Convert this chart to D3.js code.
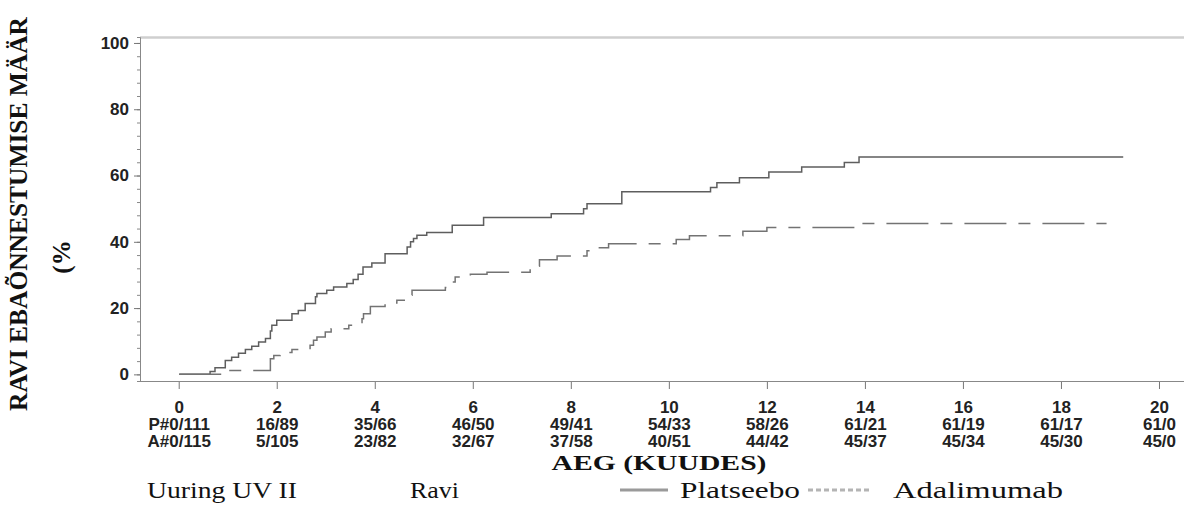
<!DOCTYPE html>
<html>
<head>
<meta charset="utf-8">
<script src="https://cdn.jsdelivr.net/npm/d3@7"></script>
<style>
body { margin: 0; background: #fff; }
</style>
</head>
<body>
<svg id="svg" width="1184" height="517"></svg>
<script>
var monthTicks = [0, 2, 4, 6, 8, 10, 12, 14, 16, 18, 20];
var rateTicks = [0, 20, 40, 60, 80, 100];
var placeboRisk = ["P#0/111", "16/89", "35/66", "46/50", "49/41", "54/33", "58/26", "61/21", "61/19", "61/17", "61/0"];
var adaRisk = ["A#0/115", "5/105", "23/82", "32/67", "37/58", "40/51", "44/42", "45/37", "45/34", "45/30", "45/0"];

// Kaplan-Meier steps: time (months) and cumulative failure rate (%)
var placeboTime = [0, 0.63, 0.73, 0.94, 1.07, 1.21, 1.35, 1.48, 1.62, 1.76, 1.86, 1.89, 1.99,
    2.3, 2.43, 2.57, 2.78, 2.81, 3.01, 3.15, 3.42, 3.55, 3.65, 3.75, 3.93, 4.2, 4.65, 4.72,
    4.78, 4.85, 5.05, 5.57, 6.21, 7.59, 8.25, 8.32, 9.03, 10.84, 10.97, 11.43, 12.03, 12.7,
    13.57, 13.87, 19.26];
var placeboRate = [0, 0.9, 2.0, 4.2, 5.2, 6.4, 7.5, 8.5, 9.8, 10.8, 13.1, 14.8, 16.3,
    18.3, 19.3, 21.4, 23.4, 24.4, 25.4, 26.4, 27.4, 28.6, 30.2, 32.4, 33.6, 36.4, 38.4, 40.0,
    41.0, 42.0, 42.8, 45.0, 47.3, 48.5, 50.0, 51.5, 55.1, 56.4, 57.8, 59.3, 61.1, 62.6,
    63.9, 65.6, 65.6];
var adaTime = [0, 0.94, 1.86, 1.93, 2.06, 2.3, 2.67, 2.74, 2.81, 2.98, 3.1, 3.46, 3.73, 3.76,
    3.9, 4.2, 4.44, 4.65, 4.75, 5.43, 5.53, 5.63, 5.94, 6.28, 7.16, 7.35, 7.71, 8.32, 8.52,
    8.76, 10.14, 10.41, 11.5, 11.99, 13.87, 18.92];
var adaRate = [0, 1.2, 4.7, 5.7, 6.6, 7.5, 8.8, 10.3, 11.3, 12.8, 13.8, 14.8, 16.8, 18.3,
    20.5, 21.5, 22.4, 23.9, 25.4, 26.2, 27.9, 29.4, 30.2, 30.8, 32.6, 34.6, 35.7, 37.3, 38.2,
    39.4, 40.7, 41.8, 43.2, 44.3, 45.5, 45.5];

var svg = d3.select('#svg');
var x = d3.scaleLinear().domain([-0.8, 20.5]).range([140, 1184]);
var y = d3.scaleLinear().domain([-2, 101.8]).range([381, 37]);
var tickFont = 'bold 17px "Liberation Sans", Arial, sans-serif';
var serifBold = '"Liberation Serif", "Times New Roman", serif';

// frame: top border and axis lines
svg.append('line')
    .attr('x1', 140).attr('x2', 1184).attr('y1', 37.5).attr('y2', 37.5)
    .attr('stroke', '#cfcfcf').attr('stroke-width', 2.5);

svg.append('g')
    .attr('transform', 'translate(140,0)')
    .call(d3.axisLeft(y).tickValues(d3.range(0, 101, 4)).tickSize(3).tickFormat(''))
    .call(function(g) {
        g.select('.domain').attr('stroke', '#888');
        g.selectAll('.tick line').attr('stroke', '#888');
    });

svg.append('g')
    .attr('transform', 'translate(140,0)')
    .call(d3.axisLeft(y).tickValues(rateTicks).tickSize(6).tickPadding(5))
    .call(function(g) {
        g.select('.domain').remove();
        g.selectAll('.tick line').attr('stroke', '#777');
        g.selectAll('.tick text')
            .attr('fill', '#222')
            .style('font', tickFont);
    });

svg.append('line')
    .attr('x1', 140).attr('x2', 1184).attr('y1', 381.5).attr('y2', 381.5)
    .attr('stroke', '#888');

svg.append('g').selectAll('line')
    .data(monthTicks)
    .enter()
    .append('line')
    .attr('x1', function(d) { return x(d); })
    .attr('x2', function(d) { return x(d); })
    .attr('y1', 382).attr('y2', 389)
    .attr('stroke', '#777');

var rows = [
    { labels: monthTicks, y: 413 },
    { labels: placeboRisk, y: 430 },
    { labels: adaRisk, y: 447 }
];
rows.forEach(function(row) {
    svg.append('g').selectAll('text')
        .data(row.labels)
        .enter()
        .append('text')
        .attr('x', function(d, i) { return x(monthTicks[i]); })
        .attr('y', row.y)
        .attr('text-anchor', 'middle')
        .attr('fill', '#222')
        .style('font', tickFont)
        .text(function(d) { return d; });
});

// curves
var line = d3.line()
    .x(function(d) { return x(d[0]); })
    .y(function(d) { return y(d[1]); })
    .curve(d3.curveStepAfter);

svg.append('path')
    .datum(d3.zip(placeboTime, placeboRate))
    .attr('d', line)
    .attr('fill', 'none')
    .attr('stroke', '#5e5e5e')
    .attr('stroke-width', 1.5);

svg.append('path')
    .datum(d3.zip(adaTime, adaRate))
    .attr('d', line)
    .attr('fill', 'none')
    .attr('stroke', '#737373')
    .attr('stroke-width', 1.5)
    .attr('stroke-dasharray', '42 12 12 12');

// titles
svg.append('text')
    .attr('x', 659).attr('y', 470)
    .attr('text-anchor', 'middle')
    .attr('fill', '#111')
    .attr('textLength', 215)
    .attr('lengthAdjust', 'spacingAndGlyphs')
    .style('font', 'bold 21px ' + serifBold)
    .text('AEG (KUUDES)');

svg.append('text')
    .attr('transform', 'translate(27,214) rotate(-90)')
    .attr('text-anchor', 'middle')
    .attr('fill', '#111')
    .attr('textLength', 394)
    .attr('lengthAdjust', 'spacingAndGlyphs')
    .style('font', 'bold 25px ' + serifBold)
    .text('RAVI EBAÕNNESTUMISE MÄÄR');

svg.append('text')
    .attr('transform', 'translate(70,257) rotate(-90)')
    .attr('text-anchor', 'middle')
    .attr('fill', '#111')
    .style('font', 'bold 25px ' + serifBold)
    .text('(%');

// legend
var legendItems = [
    { text: 'Uuring UV II', x: 147, w: 150 },
    { text: 'Ravi', x: 410, w: 49 },
    { text: 'Platseebo', x: 680, w: 120 },
    { text: 'Adalimumab', x: 893, w: 170 }
];
svg.append('g').selectAll('text')
    .data(legendItems)
    .enter()
    .append('text')
    .attr('x', function(d) { return d.x; })
    .attr('y', 498)
    .attr('fill', '#111')
    .attr('textLength', function(d) { return d.w; })
    .attr('lengthAdjust', 'spacingAndGlyphs')
    .style('font', '24px ' + serifBold)
    .text(function(d) { return d.text; });

svg.append('line')
    .attr('x1', 620).attr('x2', 668).attr('y1', 490).attr('y2', 490)
    .attr('stroke', '#9a9a9a').attr('stroke-width', 3);
svg.append('line')
    .attr('x1', 808).attr('x2', 870).attr('y1', 490).attr('y2', 490)
    .attr('stroke', '#b4b4b4').attr('stroke-width', 3)
    .attr('stroke-dasharray', '5 3');
</script>
</body>
</html>
